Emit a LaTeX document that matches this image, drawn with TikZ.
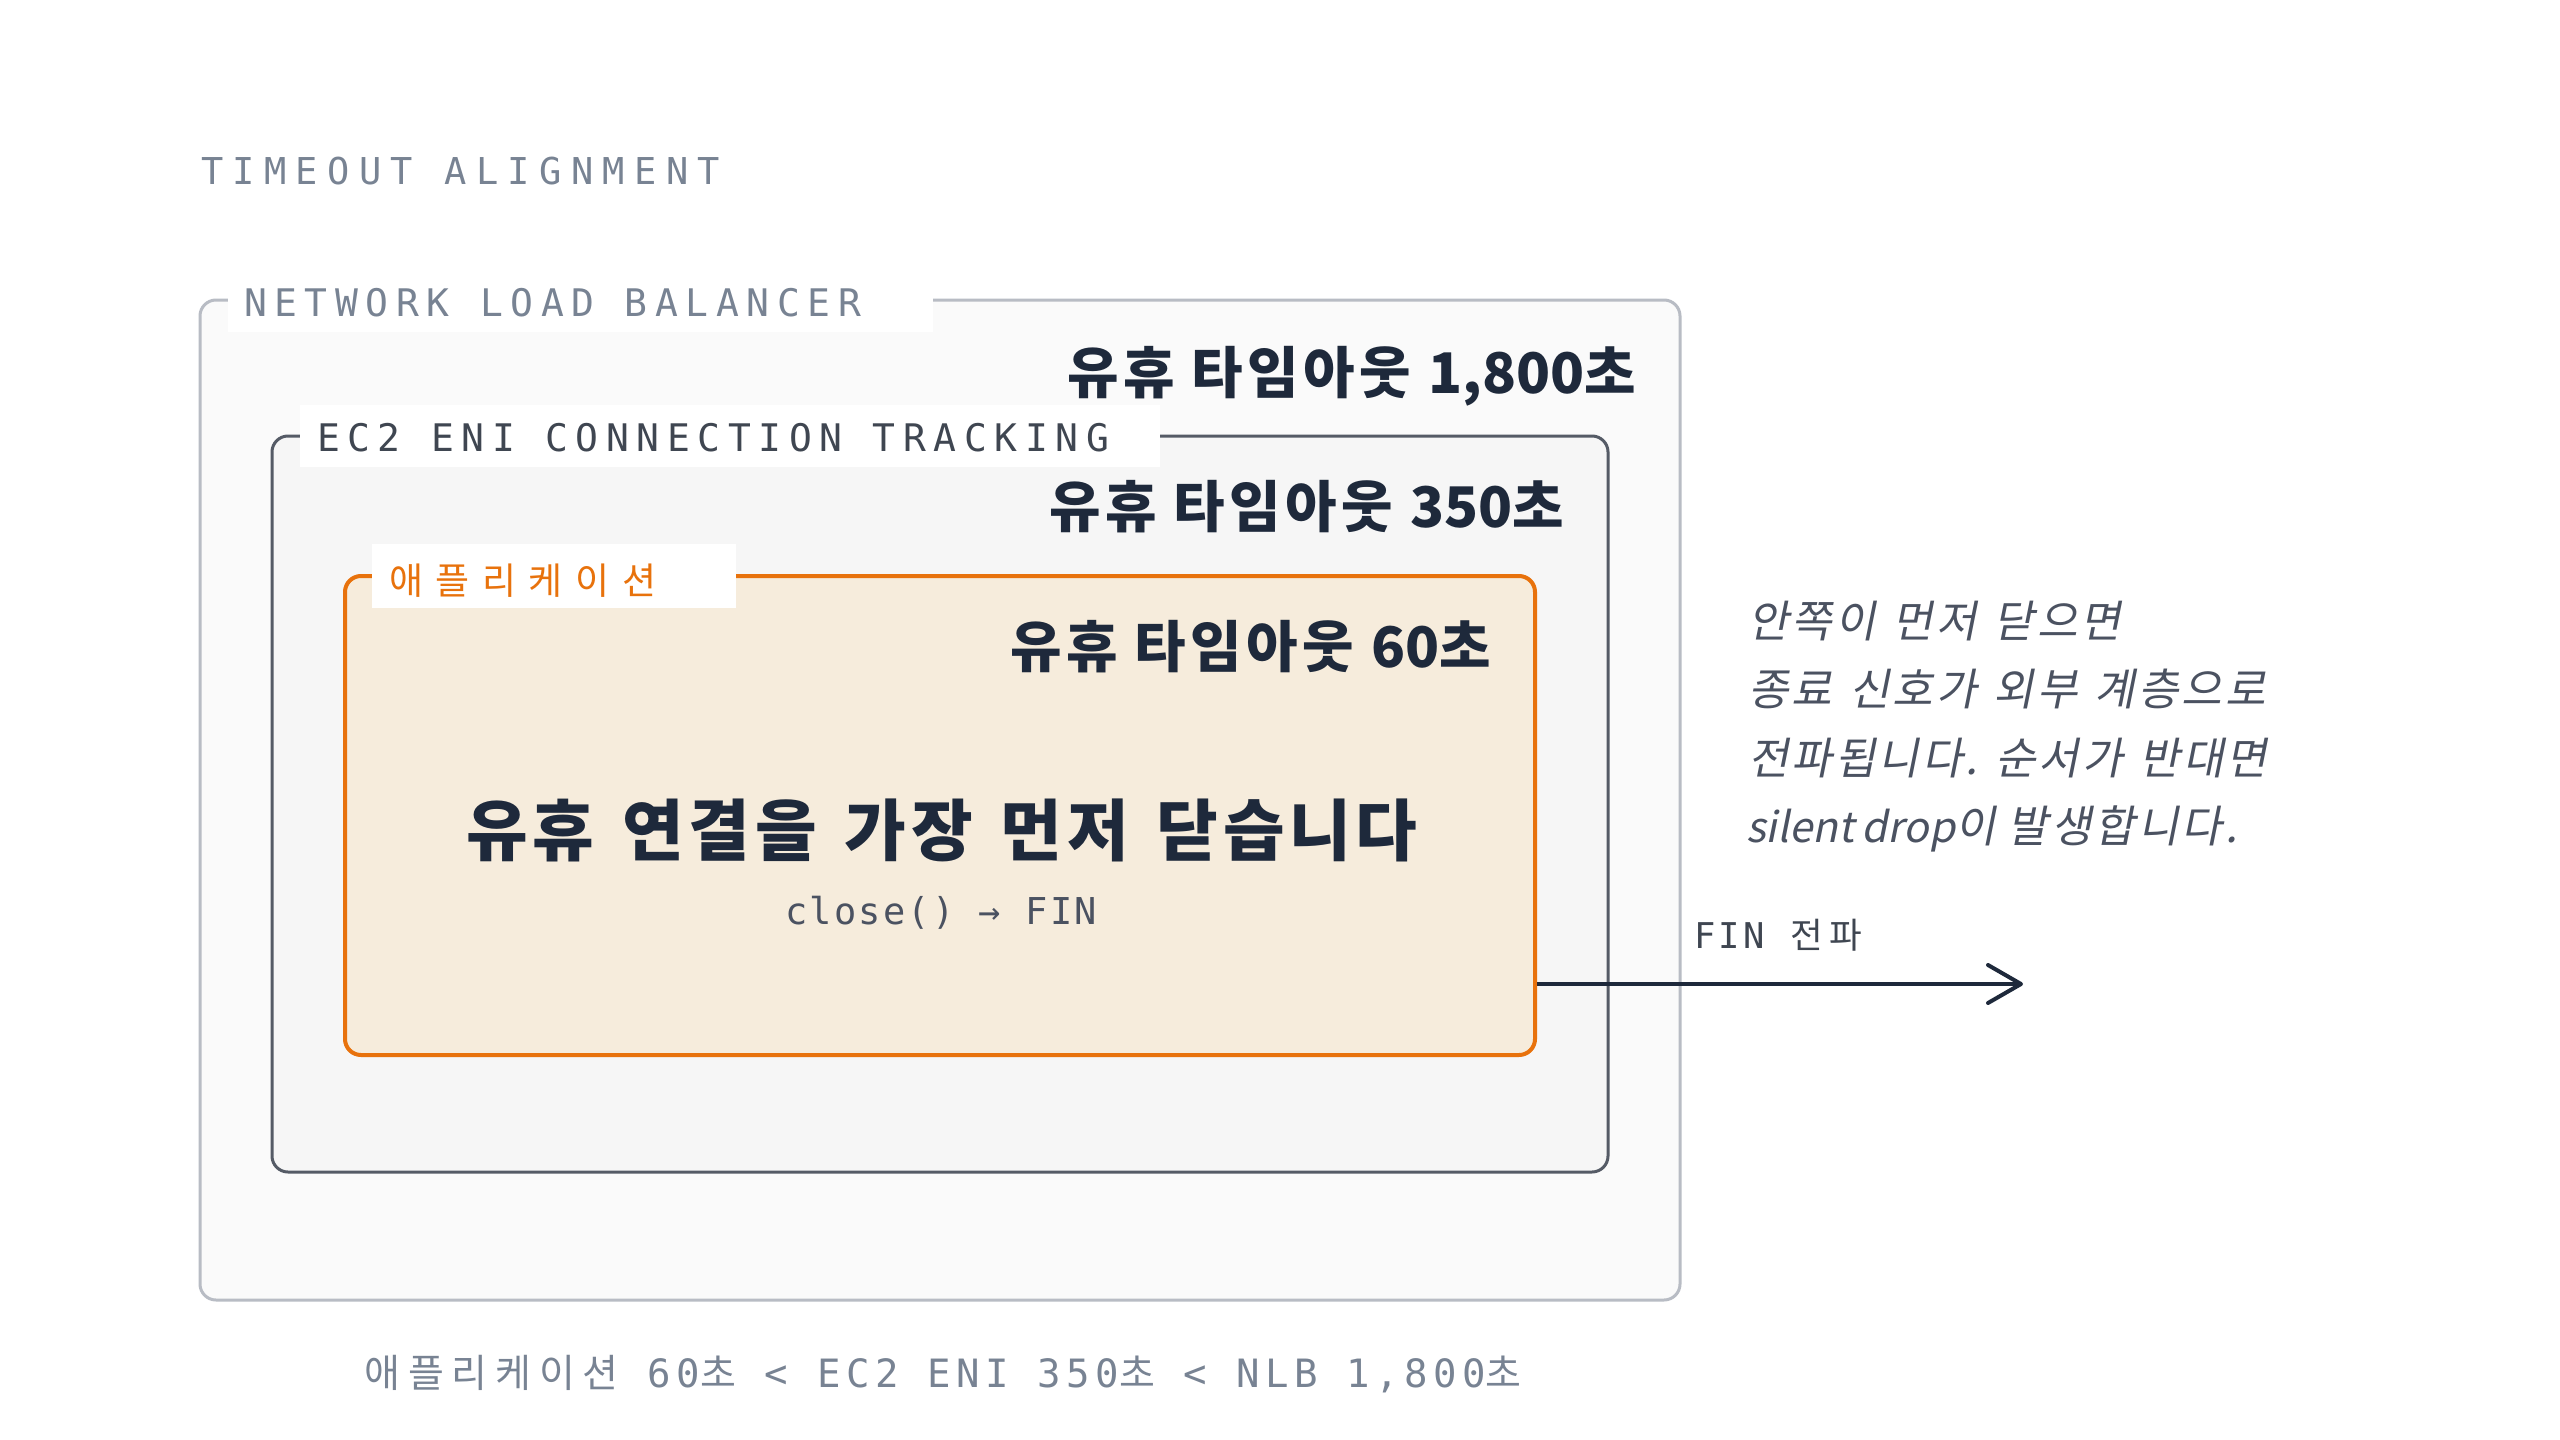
\documentclass[tikz,border=0pt]{standalone}
\usepackage{fontspec}
\usetikzlibrary{arrows.meta}
\newfontfamily\kfont{Noto Sans CJK KR}
\newfontfamily\kH{Noto Sans CJK KR}[LetterSpace=8]
\newfontfamily\kM{Noto Sans CJK KR}[LetterSpace=7]
\newfontfamily\kN{Noto Sans CJK KR}[FakeSlant=0.2, LetterSpace=7]
\newfontfamily\kNl{Noto Sans CJK KR}[FakeSlant=0.2]
\newfontfamily\krlab{Noto Sans CJK KR}[LetterSpace=34]
\newfontfamily\krbot{Noto Sans CJK KR}[LetterSpace=20]
\newfontfamily\krfin{Noto Sans CJK KR}[LetterSpace=18]
\newfontfamily\monotitle{DejaVu Sans Mono}[LetterSpace=25.3]
\newfontfamily\monolab{DejaVu Sans Mono}[LetterSpace=20]
\newfontfamily\monobot{DejaVu Sans Mono}[LetterSpace=14]
\newfontfamily\monoclose{DejaVu Sans Mono}[LetterSpace=6]
\newfontfamily\monofin{DejaVu Sans Mono}[LetterSpace=10]
\newcommand\gapp[1]{\hspace*{#1pt}}
\definecolor{ink}{HTML}{1E293B}
\definecolor{slate}{HTML}{788393}
\definecolor{labdark}{HTML}{3F4651}
\definecolor{notegray}{HTML}{4B5261}
\definecolor{appor}{HTML}{E8720C}
\definecolor{appfill}{HTML}{F6ECDC}
\definecolor{ecline}{HTML}{555B66}
\definecolor{ecfill}{HTML}{F6F6F6}
\definecolor{nlbline}{HTML}{B8BCC4}
\definecolor{nlbfill}{HTML}{FAFAFA}
\begin{document}
\begin{tikzpicture}[x=1pt,y=-1pt,
  box/.style={rectangle, rounded corners=16pt, inner sep=0pt},
  nlbbox/.style={box, draw=nlbline, fill=nlbfill, line width=3pt},
  ecbox/.style={box, draw=ecline, fill=ecfill, line width=3pt},
  appbox/.style={box, draw=appor, fill=appfill, line width=4pt},
  txt/.style={inner sep=0pt, outer sep=0pt},
  title/.style={txt, anchor=base west, text=slate, font=\monotitle\fontsize{37pt}{40pt}\selectfont},
  lab/.style={txt, anchor=base west, font=\monolab\fontsize{38pt}{41pt}\selectfont},
  heading/.style={txt, anchor=base east, text=ink, font=\kfont\bfseries\fontsize{56pt}{60pt}\selectfont},
  note/.style={txt, anchor=base west, text=notegray, font=\kN\fontsize{44pt}{47pt}\selectfont},
  flow/.style={line width=4pt, draw=ink, -{Straight Barb[length=33pt,width=38pt,round]}}
]
\useasboundingbox (0,0) rectangle (2560,1440);
\fill[white] (0,0) rectangle (2560,1440);

% title
\node[title] (ttl) at (201,184) {TIMEOUT\gapp{31.6}ALIGNMENT};

% boxes
\node[nlbbox, minimum width=1480pt, minimum height=1000pt] (nlb) at (940,800) {};
\node[ecbox, minimum width=1336pt, minimum height=736pt] (ec2) at (940,804) {};
\node[appbox, minimum width=1190pt, minimum height=479pt] (app) at (940,815.5) {};

% label backgrounds
\fill[white] (228,268) rectangle (933,332);
\fill[white] (300,405) rectangle (1160,467);
\fill[white] (372,544) rectangle (736,608);

% labels
\node[lab, text=slate] (nlblab) at (244,316) {NETWORK\gapp{30.4}LOAD\gapp{30.4}BALANCER};
\node[lab, text=labdark] (eclab) at (317,451) {EC2\gapp{30.4}ENI\gapp{30.4}CONNECTION\gapp{30.4}TRACKING};
\node[txt, anchor=base west, text=appor, font=\krlab\fontsize{37pt}{40pt}\selectfont] (applab) at (389,594) {애플리케이션};

% headings
\node[heading] (h1) at (1636,393) {{\kH 유휴}\gapp{17}{\kH 타임아웃}\gapp{17}1,800{\kH 초}};
\node[heading] (h2) at (1564,527) {{\kH 유휴}\gapp{17}{\kH 타임아웃}\gapp{17}350{\kH 초}};
\node[heading] (h3) at (1491,667) {{\kH 유휴}\gapp{17}{\kH 타임아웃}\gapp{17}60{\kH 초}};

% main text
\node[txt, anchor=base, text=ink, font=\kM\bfseries\fontsize{67pt}{72pt}\selectfont] (main) at (942,855) {유휴\gapp{28}연결을\gapp{28}가장\gapp{28}먼저\gapp{28}닫습니다};
\node[txt, anchor=base, text=notegray, font=\monoclose\fontsize{37pt}{40pt}\selectfont] (close) at (941,924) {close() → FIN};

% arrow
\coordinate (arrend) at (2023,984);
\draw[flow] (app.east |- arrend) -- (arrend);
\node[txt, anchor=base west, text=labdark, font=\monofin\fontsize{35.5pt}{39pt}\selectfont] (finlab) at (1694,948) {FIN\gapp{24.8}{\krfin 전파}};

% note
\node[note] (n1) at (1748,637) {안쪽이\gapp{17}먼저\gapp{17}닫으면};
\node[note] (n2) at (1748,705) {종료\gapp{17}신호가\gapp{17}외부\gapp{17}계층으로};
\node[note] (n3) at (1748,774) {전파됩니다.\gapp{17}순서가\gapp{17}반대면};
\node[note] (n4) at (1746,842) {{\kNl\fontsize{42pt}{46pt}\selectfont silent\gapp{8}drop}이\gapp{12}발생합니다.};

% bottom
\node[txt, anchor=base, text=slate, font=\monobot\fontsize{39pt}{42pt}\selectfont] (bottom) at (943,1387) {{\krbot 애플리케이션}\gapp{28.9}60{\krbot 초}\gapp{28.9}<\gapp{28.9}EC2\gapp{28.9}ENI\gapp{28.9}350{\krbot 초}\gapp{28.9}<\gapp{28.9}NLB\gapp{28.9}1,800{\krbot 초}};
\end{tikzpicture}
\end{document}
